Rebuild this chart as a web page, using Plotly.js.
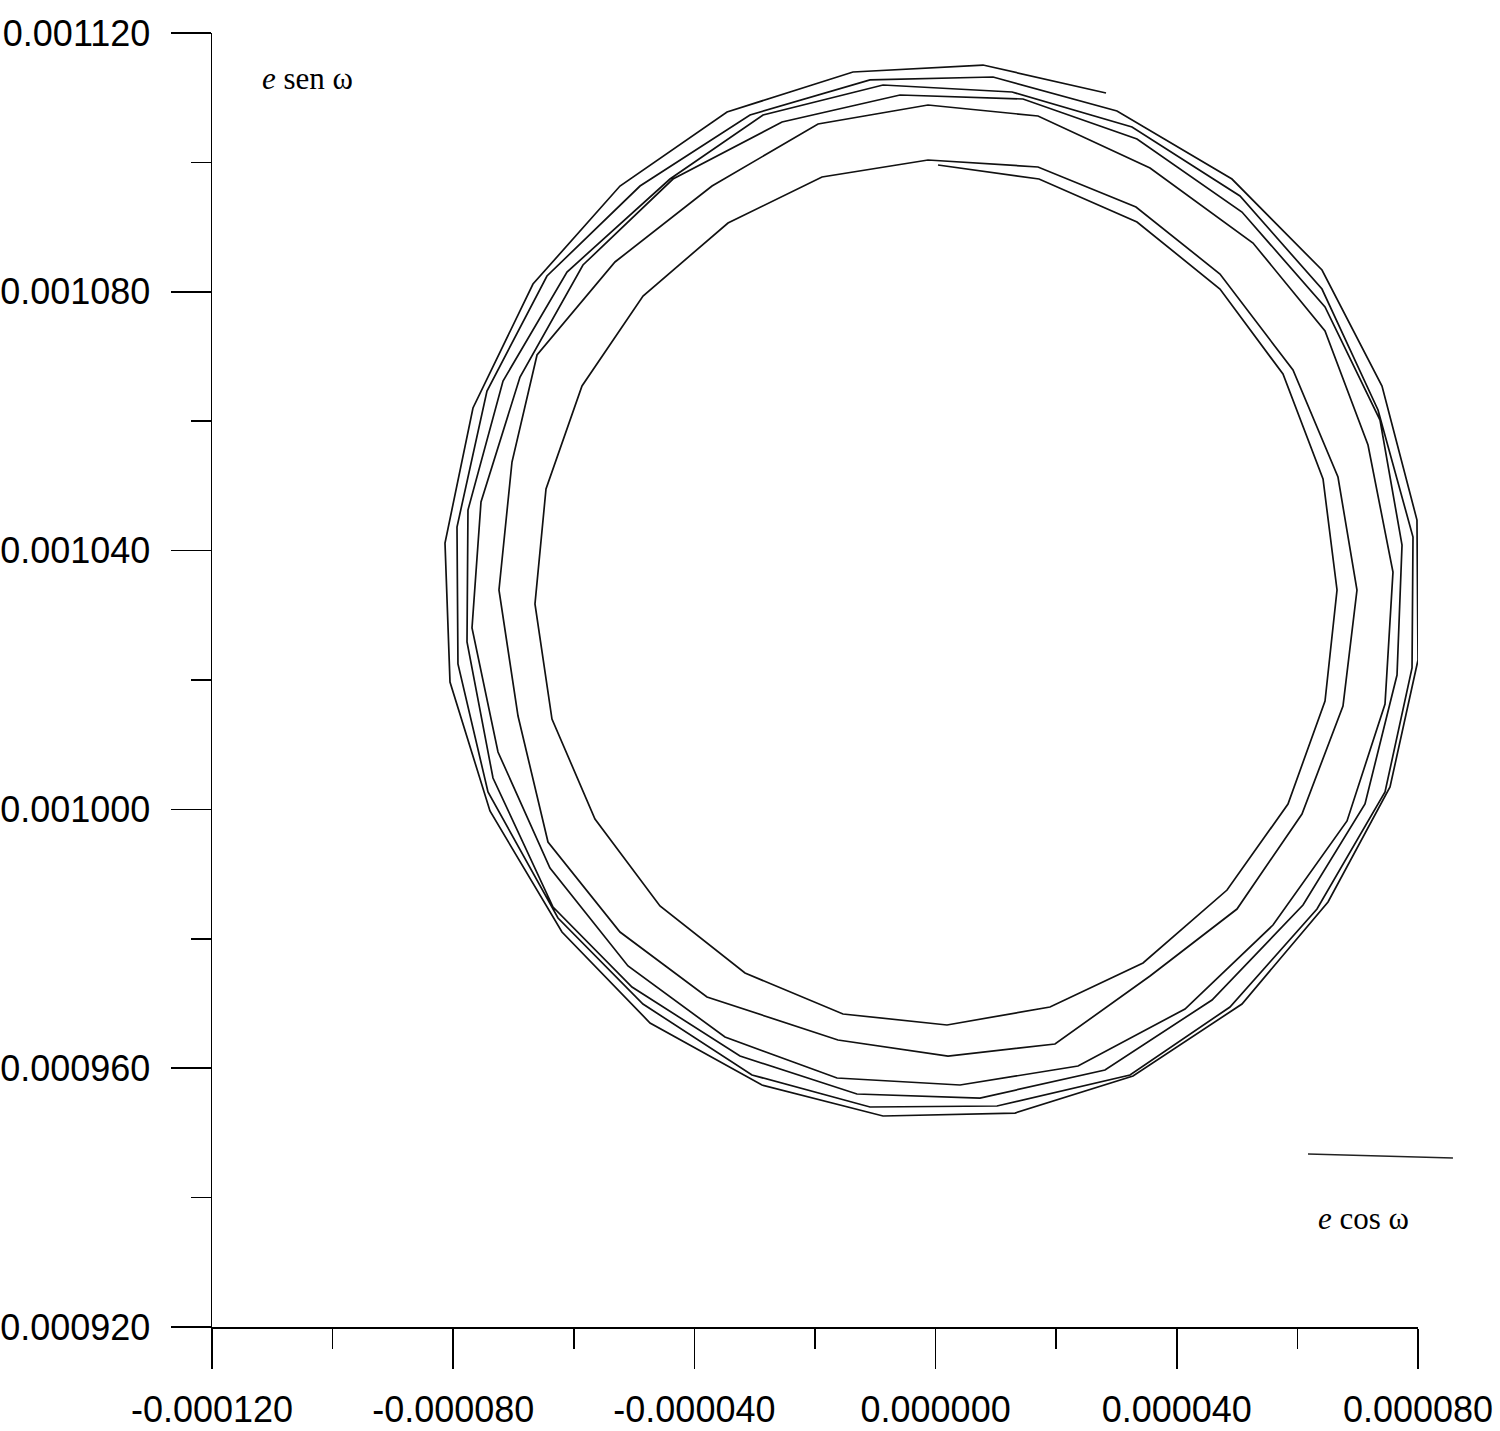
<!DOCTYPE html>
<html>
<head>
<meta charset="utf-8">
<script src="https://cdn.plot.ly/plotly-3.0.1.min.js"></script>
<style>
  html, body { margin: 0; padding: 0; background: #ffffff; }
  #chart { width: 1500px; height: 1431px; }
</style>
</head>
<body>
<div id="chart"></div>
<script>
// e cos(omega) values (6 revolutions + final arc)
const eCosOmega = [
  0.40e-6, 17.15e-6, 33.40e-6, 47.16e-6, 57.61e-6, 64.25e-6, 66.57e-6, 64.58e-6, 58.44e-6, 48.33e-6, 34.40e-6, 18.97e-6,
  1.89e-6, -15.36e-6, -31.61e-6, -45.71e-6, -56.49e-6, -63.62e-6, -66.44e-6, -64.61e-6, -58.64e-6, -48.52e-6, -34.43e-6, -18.84e-6,
  -1.26e-6, 16.98e-6, 33.23e-6, 47.16e-6, 59.27e-6, 66.73e-6, 69.88e-6, 67.56e-6, 60.76e-6, 49.98e-6, 35.56e-6, 19.80e-6,
  2.06e-6, -16.19e-6, -37.91e-6, -52.34e-6, -64.28e-6, -69.25e-6, -72.41e-6, -70.25e-6, -66.10e-6, -53.17e-6, -37.08e-6, -19.50e-6,
  -1.26e-6, 16.98e-6, 35.56e-6, 52.64e-6, 64.58e-6, 71.71e-6, 75.85e-6, 74.53e-6, 68.23e-6, 55.95e-6, 41.36e-6, 23.62e-6,
  4.05e-6, -16.35e-6, -34.93e-6, -51.01e-6, -63.95e-6, -72.57e-6, -76.88e-6, -75.39e-6, -68.92e-6, -58.48e-6, -43.55e-6, -25.47e-6,
  -5.90e-6, 14.49e-6, 33.40e-6, 50.81e-6, 64.58e-6, 73.70e-6, 77.35e-6, 76.52e-6, 71.21e-6, 60.93e-6, 45.84e-6, 28.09e-6,
  7.36e-6, -13.04e-6, -32.44e-6, -50.35e-6, -63.45e-6, -73.40e-6, -77.71e-6, -77.55e-6, -71.74e-6, -61.13e-6, -44.05e-6, -28.62e-6,
  -8.72e-6, 12.67e-6, 32.57e-6, 50.48e-6, 64.08e-6, 73.37e-6, 79.17e-6, 79.01e-6, 74.53e-6, 63.25e-6, 48.82e-6, 32.24e-6,
  10.18e-6, -10.88e-6, -30.45e-6, -48.53e-6, -62.62e-6, -74.23e-6, -79.21e-6, -79.37e-6, -74.40e-6, -64.45e-6, -49.02e-6, -30.78e-6,
  -10.88e-6, 9.52e-6, 30.08e-6, 49.15e-6, 64.08e-6, 74.03e-6, 79.83e-6, 80.00e-6, 75.36e-6, 65.08e-6, 50.81e-6, 32.74e-6,
  13.17e-6, -8.72e-6, -28.79e-6, -47.36e-6, -61.96e-6, -73.90e-6, -80.53e-6, -81.36e-6, -76.72e-6, -66.77e-6, -52.34e-6, -34.59e-6,
  -13.70e-6, 7.86e-6, 28.26e-6
];

// e sen(omega) values
const eSenOmega = [
  1099.60e-6, 1097.43e-6, 1090.79e-6, 1080.43e-6, 1067.29e-6, 1051.07e-6, 1033.91e-6, 1016.75e-6, 1000.83e-6, 987.54e-6, 976.26e-6, 969.46e-6,
  966.68e-6, 968.38e-6, 974.71e-6, 985.07e-6, 998.52e-6, 1013.97e-6, 1031.75e-6, 1049.52e-6, 1065.44e-6, 1079.35e-6, 1090.63e-6, 1097.74e-6,
  1100.37e-6, 1099.29e-6, 1093.11e-6, 1082.75e-6, 1067.91e-6, 1051.37e-6, 1033.91e-6, 1015.98e-6, 999.29e-6, 984.60e-6, 974.25e-6, 963.74e-6,
  961.88e-6, 964.36e-6, 971.00e-6, 981.05e-6, 994.96e-6, 1014.43e-6, 1033.91e-6, 1053.69e-6, 1070.23e-6, 1084.61e-6, 1096.35e-6, 1105.93e-6,
  1108.87e-6, 1107.17e-6, 1099.13e-6, 1087.54e-6, 1073.94e-6, 1056.32e-6, 1036.69e-6, 1016.29e-6, 998.21e-6, 982.13e-6, 969.15e-6, 960.34e-6,
  957.40e-6, 958.48e-6, 964.82e-6, 975.80e-6, 990.94e-6, 1008.87e-6, 1028.04e-6, 1047.51e-6, 1066.83e-6, 1084.14e-6, 1097.43e-6, 1106.24e-6,
  1110.42e-6, 1109.80e-6, 1103.62e-6, 1092.33e-6, 1077.65e-6, 1060.18e-6, 1040.86e-6, 1020.77e-6, 1000.83e-6, 985.22e-6, 970.54e-6, 959.72e-6,
  955.39e-6, 956.01e-6, 961.88e-6, 972.55e-6, 984.91e-6, 1004.85e-6, 1025.87e-6, 1046.27e-6, 1066.21e-6, 1083.06e-6, 1097.43e-6, 1107.33e-6,
  1111.96e-6, 1110.88e-6, 1105.47e-6, 1094.81e-6, 1080.43e-6, 1061.73e-6, 1042.10e-6, 1021.85e-6, 1002.69e-6, 984.60e-6, 969.46e-6, 958.95e-6,
  954.16e-6, 954.00e-6, 958.95e-6, 969.92e-6, 983.21e-6, 1002.69e-6, 1022.47e-6, 1043.65e-6, 1064.67e-6, 1082.44e-6, 1096.35e-6, 1107.33e-6,
  1112.74e-6, 1113.20e-6, 1107.94e-6, 1097.43e-6, 1083.37e-6, 1065.44e-6, 1044.73e-6, 1023.09e-6, 1003.46e-6, 985.69e-6, 969.92e-6, 958.79e-6,
  953.07e-6, 952.61e-6, 957.40e-6, 966.99e-6, 981.05e-6, 999.75e-6, 1019.69e-6, 1041.17e-6, 1062.04e-6, 1081.20e-6, 1096.35e-6, 1107.79e-6,
  1113.97e-6, 1115.05e-6, 1110.73e-6
];

// Axis ticks
const xTickVals = [-120e-6, -80e-6, -40e-6, 0, 40e-6, 80e-6];
const xTickText = ["-0.000120", "-0.000080", "-0.000040", "0.000000", "0.000040", "0.000080"];
const yTickVals = [920e-6, 960e-6, 1000e-6, 1040e-6, 1080e-6, 1120e-6];
const yTickText = ["0.000920", "0.000960", "0.001000", "0.001040", "0.001080", "0.001120"];

const yAxisLabel = "<i>e</i> sen ω";
const xAxisLabel = "<i>e</i> cos ω";

const trace = {
  x: eCosOmega,
  y: eSenOmega,
  type: "scatter",
  mode: "lines",
  line: { color: "#111111", width: 1.7 },
  hoverinfo: "skip",
  showlegend: false
};

const tickFont = { family: "Liberation Sans, Arial, sans-serif", size: 36, color: "#000000" };
const labelFont = { family: "Liberation Serif, Times New Roman, serif", size: 31, color: "#000000" };

const layout = {
  width: 1500,
  height: 1431,
  paper_bgcolor: "#ffffff",
  plot_bgcolor: "#ffffff",
  margin: { l: 212, r: 82, t: 33, b: 104, pad: 0 },
  showlegend: false,
  xaxis: {
    range: [-120e-6, 80e-6],
    tickvals: xTickVals,
    ticktext: xTickText,
    ticks: "outside",
    ticklen: 40,
    tickwidth: 1.5,
    tickcolor: "#000000",
    ticklabelstandoff: 10,
    minor: { dtick: 20e-6, tick0: 0, ticks: "outside", ticklen: 20, tickwidth: 1.5, tickcolor: "#000000", showgrid: false },
    showline: true,
    linecolor: "#000000",
    linewidth: 1.5,
    showgrid: false,
    zeroline: false,
    tickfont: tickFont
  },
  yaxis: {
    range: [920e-6, 1120e-6],
    tickvals: yTickVals,
    ticktext: yTickText,
    ticks: "outside",
    ticklen: 40,
    tickwidth: 1.5,
    tickcolor: "#000000",
    ticklabelstandoff: 13,
    minor: { dtick: 20e-6, tick0: 0, ticks: "outside", ticklen: 20, tickwidth: 1.5, tickcolor: "#000000", showgrid: false },
    showline: true,
    linecolor: "#000000",
    linewidth: 1.5,
    showgrid: false,
    zeroline: false,
    tickfont: tickFont
  },
  annotations: [
    { text: yAxisLabel, xref: "paper", yref: "paper", x: 0.0398, y: 0.9652, xanchor: "left", yanchor: "middle", showarrow: false, font: labelFont },
    { text: xAxisLabel, xref: "paper", yref: "paper", x: 0.9155, y: 0.0842, xanchor: "left", yanchor: "middle", showarrow: false, font: labelFont }
  ],
  shapes: [
    { type: "line", xref: "paper", yref: "paper", x0: 0.9088, y0: 0.1337, x1: 1.029, y1: 0.1306, line: { color: "#222222", width: 1.3 } }
  ]
};

Plotly.newPlot("chart", [trace], layout, { displayModeBar: false, staticPlot: true });
</script>
</body>
</html>
